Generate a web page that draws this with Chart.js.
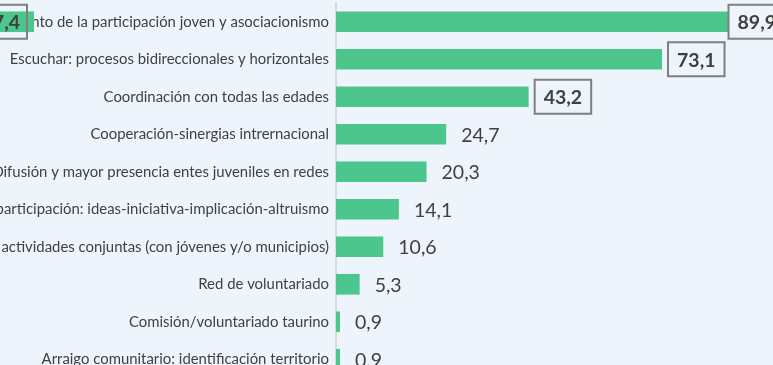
<!DOCTYPE html>
<html>
<head>
<meta charset="utf-8">
<script src="https://cdn.jsdelivr.net/npm/chart.js@4.4.1/dist/chart.umd.min.js"></script>
<style>
  html, body { margin: 0; padding: 0; background: #eef4fb; overflow: hidden; width: 773px; height: 365px; }
  #wrap { position: absolute; left: -150px; top: 0; width: 932px; height: 378px; }
</style>
</head>
<body>
<div id="wrap"><canvas id="chart" width="932" height="378"></canvas></div>
<script>
// --- Data ---
const categories = [
  'Fomento de la participación joven y asociacionismo',
  'Escuchar: procesos bidireccionales y horizontales',
  'Coordinación con todas las edades',
  'Cooperación-sinergias intrernacional',
  'Difusión y mayor presencia entes juveniles en redes',
  'Fomento participación: ideas-iniciativa-implicación-altruismo',
  'Organizar actividades conjuntas (con jóvenes y/o municipios)',
  'Red de voluntariado',
  'Comisión/voluntariado taurino',
  'Arraigo comunitario: identificación territorio'
];
const values = [89.9, 73.1, 43.2, 24.7, 20.3, 14.1, 10.6, 5.3, 0.9, 0.9];
const boxedCount = 3;            // first rows get a bold framed label
const neighbourLabel = '7,4';    // label of the adjoining panel, cut at the edge

const GREEN = '#4cc68c';
const TEXT = '#404040';
const BG = '#eef4fb';
const FONT = 'Lato, "Open Sans", sans-serif';
const VALUE_SIZE = 19.5;

function fmt(v) {
  return v.toFixed(1).replace('.', ',');
}

function frame(ctx, x, y, w) {
  ctx.save();
  ctx.strokeStyle = '#7f7f7f';
  ctx.lineWidth = 2;
  ctx.strokeRect(x - 9, y - 17, w + 18, 34);
  ctx.restore();
}

// value labels next to each bar
const valueLabels = {
  id: 'valueLabels',
  afterDatasetsDraw(chart) {
    const ctx = chart.ctx;
    const area = chart.chartArea;
    const bars = chart.getDatasetMeta(0).data;
    ctx.save();
    ctx.textBaseline = 'middle';
    ctx.textAlign = 'left';
    bars.forEach((bar, i) => {
      const boxed = i < boxedCount;
      const txt = fmt(values[i]);
      ctx.font = (boxed ? 'bold ' : '') + VALUE_SIZE + 'px ' + FONT;
      const w = ctx.measureText(txt).width;
      const x = Math.min(bar.x + 15, area.right - w - 6);
      if (boxed) {
        ctx.fillStyle = BG;
        ctx.fillRect(x - 9, bar.y - 17, w + 18, 34);
      }
      ctx.fillStyle = TEXT;
      ctx.fillText(txt, x, bar.y + 1);
      if (boxed) frame(ctx, x, bar.y, w);
    });
    ctx.restore();
  },
  afterDraw(chart) {
    // the neighbouring panel's bar end and its framed label, at the left edge
    const ctx = chart.ctx;
    const bar = chart.getDatasetMeta(0).data[0];
    const half = bar.height / 2;
    ctx.save();
    ctx.fillStyle = BG;
    ctx.fillRect(0, bar.y - 17, 177, 34);
    ctx.fillStyle = GREEN;
    ctx.fillRect(0, bar.y - half, 184, bar.height);
    ctx.font = 'bold ' + VALUE_SIZE + 'px ' + FONT;
    ctx.textBaseline = 'middle';
    ctx.textAlign = 'right';
    ctx.fillStyle = TEXT;
    ctx.fillText(neighbourLabel, 170, bar.y + 1);
    ctx.strokeStyle = '#7f7f7f';
    ctx.lineWidth = 2;
    ctx.strokeRect(100, bar.y - 17, 77, 34);
    ctx.restore();
  }
};

new Chart(document.getElementById('chart'), {
  type: 'bar',
  data: {
    labels: categories,
    datasets: [{
      data: values,
      backgroundColor: GREEN,
      borderWidth: 0,
      barPercentage: 0.55,
      categoryPercentage: 1
    }]
  },
  options: {
    indexAxis: 'y',
    responsive: false,
    animation: false,
    layout: { padding: { top: 3, bottom: 0, left: 0, right: 0 } },
    plugins: { legend: { display: false }, tooltip: { enabled: false } },
    scales: {
      x: { display: false, min: 0, max: 100 },
      y: {
        afterFit: s => {
          s.width = 486;
          s.paddingTop = 0;
          s.paddingBottom = 0;
        },
        grid: { display: false, drawTicks: false },
        border: { display: true, color: '#d9d9d9', width: 2 },
        ticks: { color: TEXT, padding: 7, font: { family: FONT, size: 14.9 } }
      }
    }
  },
  plugins: [valueLabels]
});
</script>
</body>
</html>
